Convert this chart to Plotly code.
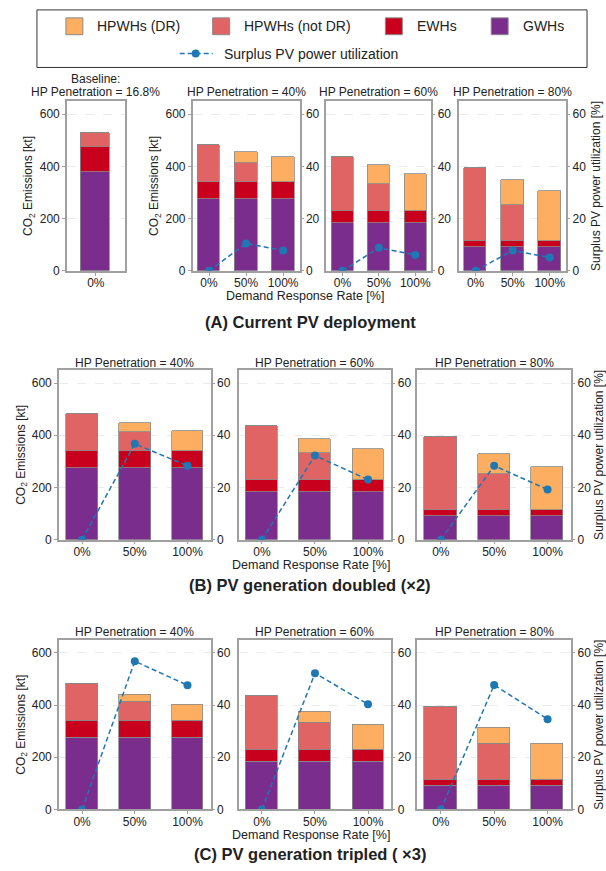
import plotly.graph_objects as go

W, H = 606, 871
FONT = "Liberation Sans, Arial, sans-serif"

def fx(p):
    return p / W

def fy(p):
    return 1 - p / H

# ---------------- data ----------------
categories = ["0%", "50%", "100%"]
baseline_category = ["0%"]

# Baseline (HP penetration 16.8 %)
base_gwh = [379]
base_ewh = [95]
base_notdr = [54]
base_dr = [0]

# GWHs / EWHs per HP penetration (same for every PV scenario)
gwh_40 = [275, 275, 275]
ewh_40 = [66, 66, 66]
gwh_60 = [184, 184, 184]
ewh_60 = [43, 43, 43]
gwh_80 = [92, 92, 92]
ewh_80 = [23, 23, 23]

# HPWHs not in DR
notdr_40 = [139, 71, 0]
notdr_60 = [209, 105, 0]
notdr_80 = [277, 138, 0]

# HPWHs in DR -- (A) current PV, (B) doubled, (C) tripled
dr_A_40 = [0, 43, 94]
dr_A_60 = [0, 71, 144]
dr_A_80 = [0, 93, 192]
dr_B_40 = [0, 34, 76]
dr_B_60 = [0, 53, 120]
dr_B_80 = [0, 75, 165]
dr_C_40 = [0, 26, 59]
dr_C_60 = [0, 41, 99]
dr_C_80 = [0, 59, 138]

# Surplus PV power utilization [%]
pv_A_40 = [0, 10.5, 7.8]
pv_A_60 = [0, 8.8, 6.1]
pv_A_80 = [0, 7.8, 5.1]
pv_B_40 = [0, 36.7, 28.3]
pv_B_60 = [0, 32.2, 23.0]
pv_B_80 = [0, 28.3, 19.2]
pv_C_40 = [0, 56.8, 47.6]
pv_C_60 = [0, 52.2, 40.3]
pv_C_80 = [0, 47.7, 34.6]

# ---------------- styles ----------------
C_DR = "#fdae61"
C_NOTDR = "#e06464"
C_EWH = "#c8001e"
C_GWH = "#7b2d8e"
C_LINE = "#1f77b4"
EDGE = "#8a8a8a"
FRAME = "#a0a0a0"
TXT = "#222222"
DASH = "5px,3px"

fig = go.Figure()

rowA_y = (102, 273)
rowB_y = (373, 544)
rowC_y = (645, 816)
bx = [(59, 211), (239, 392), (418, 572)]

panels = [
    (baseline_category, base_gwh, base_ewh, base_notdr, base_dr, None, (67, 125), rowA_y, True, True, False, False),
    (categories, gwh_40, ewh_40, notdr_40, dr_A_40, pv_A_40, (193, 300), rowA_y, True, True, True, False),
    (categories, gwh_60, ewh_60, notdr_60, dr_A_60, pv_A_60, (327, 432), rowA_y, False, False, True, False),
    (categories, gwh_80, ewh_80, notdr_80, dr_A_80, pv_A_80, (460, 567), rowA_y, False, False, True, True),
    (categories, gwh_40, ewh_40, notdr_40, dr_B_40, pv_B_40, bx[0], rowB_y, True, True, True, False),
    (categories, gwh_60, ewh_60, notdr_60, dr_B_60, pv_B_60, bx[1], rowB_y, False, False, True, False),
    (categories, gwh_80, ewh_80, notdr_80, dr_B_80, pv_B_80, bx[2], rowB_y, False, False, True, True),
    (categories, gwh_40, ewh_40, notdr_40, dr_C_40, pv_C_40, bx[0], rowC_y, True, True, True, False),
    (categories, gwh_60, ewh_60, notdr_60, dr_C_60, pv_C_60, bx[1], rowC_y, False, False, True, False),
    (categories, gwh_80, ewh_80, notdr_80, dr_C_80, pv_C_80, bx[2], rowC_y, False, False, True, True),
]

layout = {}
sec_idx = len(panels) + 1
tickfont = dict(family=FONT, size=12, color=TXT)
titlefont = dict(family=FONT, size=12, color=TXT)

for i, (cats, g, e, nd, d, pv, xd, yd, ll, lt, rl, rt) in enumerate(panels, start=1):
    xa = "x" if i == 1 else f"x{i}"
    ya = "y" if i == 1 else f"y{i}"
    for vals, col in ((g, C_GWH), (e, C_EWH), (nd, C_NOTDR), (d, C_DR)):
        fig.add_trace(go.Bar(
            x=cats, y=vals, xaxis=xa, yaxis=ya, width=0.6,
            marker=dict(color=col, line=dict(color=EDGE, width=0.8)),
            showlegend=False, hoverinfo="skip"))
    xkey = "xaxis" if i == 1 else f"xaxis{i}"
    ykey = "yaxis" if i == 1 else f"yaxis{i}"
    layout[xkey] = dict(
        domain=[fx(xd[0]), fx(xd[1])], anchor=ya,
        type="category", categoryorder="array", categoryarray=cats,
        range=[-0.6, 0.6] if len(cats) == 1 else [-0.44, 2.44],
        showline=True, mirror=True, linecolor=FRAME, linewidth=1.5,
        ticks="outside", ticklen=3, tickcolor=FRAME, tickfont=tickfont,
        ticklabelstandoff=-3,
        showgrid=False, zeroline=False, fixedrange=True)
    layout[ykey] = dict(
        domain=[fy(yd[1]), fy(yd[0])], anchor=xa, range=[0, 650],
        tickvals=[0, 200, 400, 600], showticklabels=ll,
        ticks="outside" if ll else "", ticklen=3, tickcolor=FRAME,
        tickfont=tickfont,
        showline=True, mirror=True, linecolor=FRAME, linewidth=1.5,
        showgrid=True, gridcolor="#ececec", griddash="dash", gridwidth=0.8,
        zeroline=False, fixedrange=True)
    if lt:
        layout[ykey]["title"] = dict(text="CO<sub>2</sub> Emissions [kt]", font=titlefont, standoff=4)
    if pv is not None:
        ys = f"y{sec_idx}"
        fig.add_trace(go.Scatter(
            x=cats, y=pv, xaxis=xa, yaxis=ys, mode="lines+markers",
            line=dict(color=C_LINE, width=1.5, dash=DASH),
            marker=dict(color=C_LINE, size=8),
            showlegend=False, hoverinfo="skip"))
        layout[f"yaxis{sec_idx}"] = dict(
            overlaying=ya, anchor=xa, side="right", range=[0, 65],
            tickvals=[0, 20, 40, 60], showticklabels=rl,
            ticks="outside", ticklen=3, tickcolor=FRAME, tickfont=tickfont,
            showline=False, showgrid=False, zeroline=False, fixedrange=True)
        if rt:
            layout[f"yaxis{sec_idx}"]["title"] = dict(
                text="Surplus PV power utilization [%]", font=titlefont, standoff=6)
        sec_idx += 1

annotations = []

def txt(x, y, s, size=12, bold=False, xanchor="center"):
    annotations.append(dict(
        x=fx(x), y=fy(y), xref="paper", yref="paper", text=f"<b>{s}</b>" if bold else s,
        showarrow=False, xanchor=xanchor, yanchor="middle",
        font=dict(family=FONT, size=size, color=TXT)))

# panel titles
txt(96, 80, "Baseline:")
txt(96, 93, "HP Penetration = 16.8%")
txt(246.5, 93, "HP Penetration = 40%")
txt(379.5, 93, "HP Penetration = 60%")
txt(513.5, 93, "HP Penetration = 80%")
for yy in (366, 637):
    txt(135, yy, "HP Penetration = 40%")
    txt(315.5, yy, "HP Penetration = 60%")
    txt(495, yy, "HP Penetration = 80%")

# x-axis labels
txt(306, 298, "Demand Response Rate [%]", size=12.5)
txt(312, 570, "Demand Response Rate [%]", size=12.5)
txt(312, 842, "Demand Response Rate [%]", size=12.5)

# section titles
txt(311, 325, "(A) Current PV deployment", size=16.5, bold=True)
txt(311, 590, "(B) PV generation doubled (×2)", size=16.5, bold=True)
txt(311, 861, "(C) PV generation tripled ( ×3)", size=16.5, bold=True)

# ---------------- manual legend ----------------
shapes = [dict(type="rect", xref="paper", yref="paper",
               x0=fx(37), x1=fx(588), y0=fy(68), y1=fy(10),
               line=dict(color="#333333", width=1), fillcolor="white", layer="below")]
legend_items = [("HPWHs (DR)", C_DR, 66, 95), ("HPWHs (not DR)", C_NOTDR, 213, 242),
                ("EWHs", C_EWH, 386, 416), ("GWHs", C_GWH, 492, 522)]
for label, col, sx, tx in legend_items:
    shapes.append(dict(type="rect", xref="paper", yref="paper",
                       x0=fx(sx), x1=fx(sx + 17), y0=fy(35), y1=fy(18),
                       line=dict(color=EDGE, width=1), fillcolor=col))
    txt(tx, 26.5, label, size=14, xanchor="left")
shapes.append(dict(type="line", xref="paper", yref="paper",
                   x0=fx(180), x1=fx(213), y0=fy(54), y1=fy(54),
                   line=dict(color=C_LINE, width=1.5, dash=DASH)))
shapes.append(dict(type="circle", xref="paper", yref="paper",
                   x0=fx(192), x1=fx(200), y0=fy(58), y1=fy(50),
                   line=dict(color=C_LINE, width=0), fillcolor=C_LINE))
txt(222, 54, "Surplus PV power utilization", size=14, xanchor="left")

fig.update_layout(
    **layout,
    barmode="stack",
    bargap=0,
    width=W, height=H,
    margin=dict(l=0, r=0, t=0, b=0),
    paper_bgcolor="white", plot_bgcolor="white",
    showlegend=False,
    annotations=annotations,
    shapes=shapes,
    font=dict(family=FONT, size=12, color=TXT),
)

fig.write_html(
    "out.html",
    config={"displayModeBar": False},
    post_script="document.body.style.margin='0';document.body.style.padding='0';"
                "document.body.style.overflow='hidden';",
)
